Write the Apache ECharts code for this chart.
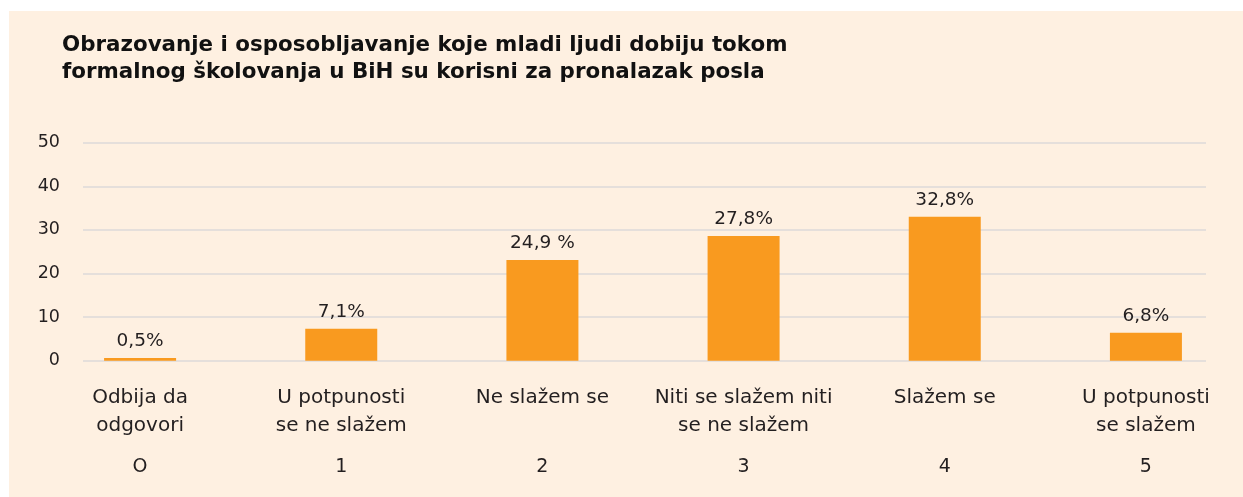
<!DOCTYPE html>
<html>
<head>
<meta charset="utf-8">
<script src="https://cdn.jsdelivr.net/npm/echarts@6/dist/echarts.min.js"></script>
<style>
  html, body { margin: 0; padding: 0; background: #ffffff; overflow: hidden; }
  #bg { position: absolute; left: 9px; top: 11px; width: 1234px; height: 486px; background: #fef0e1; }
  #chart { position: absolute; left: 0; top: 0; width: 1260px; height: 497px; }
</style>
</head>
<body>
<div id="bg"></div>
<div id="chart"></div>
<script>
// kategorije (odgovori) i broj na skali
var categories = ['Odbija da\nodgovori', 'U potpunosti\nse ne slažem', 'Ne slažem se', 'Niti se slažem niti\nse ne slažem', 'Slažem se', 'U potpunosti\nse slažem'];
var scaleNumbers = ['O', '1', '2', '3', '4', '5'];
// visine stubaca kako su nacrtane
var values = [0.6, 7.3, 23.1, 28.6, 33.0, 6.4];
// natpisi iznad stubaca
var valueLabels = ['0,5%', '7,1%', '24,9 %', '27,8%', '32,8%', '6,8%'];
var yTicks = [0, 10, 20, 30, 40, 50];

var titleText = 'Obrazovanje i osposobljavanje koje mladi ljudi dobiju tokom\nformalnog školovanja u BiH su korisni za pronalazak posla';

var FONT = 'DejaVu Sans';
var TXT = '#231f20';

var chart = echarts.init(document.getElementById('chart'));

chart.setOption({
  animation: false,
  title: {
    text: titleText,
    left: 62,
    top: 32,
    padding: 0,
    textStyle: { fontFamily: FONT, fontSize: 21.4, fontWeight: 'bold', color: '#111', lineHeight: 27 }
  },
  grid: [
    // stupci
    { left: 39.5, top: 142.7, width: 1207, bottom: 136.3, containLabel: false },
    // mreza i y os
    { left: 83, top: 142.7, width: 1123, bottom: 136.3, containLabel: false }
  ],
  xAxis: [
    {
      type: 'category', gridIndex: 0, data: categories,
      axisLine: { show: false }, axisTick: { show: false },
      axisLabel: {
        interval: 0, margin: 23,
        formatter: function (v, i) {
          var p = v.split('\n');
          return '{n|' + p[0] + '}\n{n|' + (p[1] || ' ') + '}\n{d|' + scaleNumbers[i] + '}';
        },
        rich: {
          n: { fontFamily: FONT, fontSize: 20, color: TXT, lineHeight: 28 },
          d: { fontFamily: FONT, fontSize: 19, color: TXT, lineHeight: 54 }
        }
      }
    },
    { type: 'category', gridIndex: 1, data: categories, show: false }
  ],
  yAxis: [
    { type: 'value', gridIndex: 0, min: 0, max: 50, interval: 10, show: false },
    {
      type: 'value', gridIndex: 1, min: 0, max: 50, interval: 10,
      axisLine: { show: false }, axisTick: { show: false },
      axisLabel: {
        margin: 23, fontFamily: FONT, fontSize: 17.5, color: TXT,
        formatter: function (v) { return yTicks.indexOf(v) >= 0 ? String(v) : ''; }
      },
      splitLine: { lineStyle: { color: '#dcdad8', width: 1.5 } }
    }
  ],
  series: [{
    type: 'bar',
    xAxisIndex: 0, yAxisIndex: 0,
    data: values,
    barWidth: 72,
    itemStyle: { color: '#f99a1f' },
    label: {
      show: true, position: 'top', distance: 7,
      fontFamily: FONT, fontSize: 18.5, color: TXT,
      formatter: function (p) { return valueLabels[p.dataIndex]; }
    }
  }]
});
</script>
</body>
</html>
